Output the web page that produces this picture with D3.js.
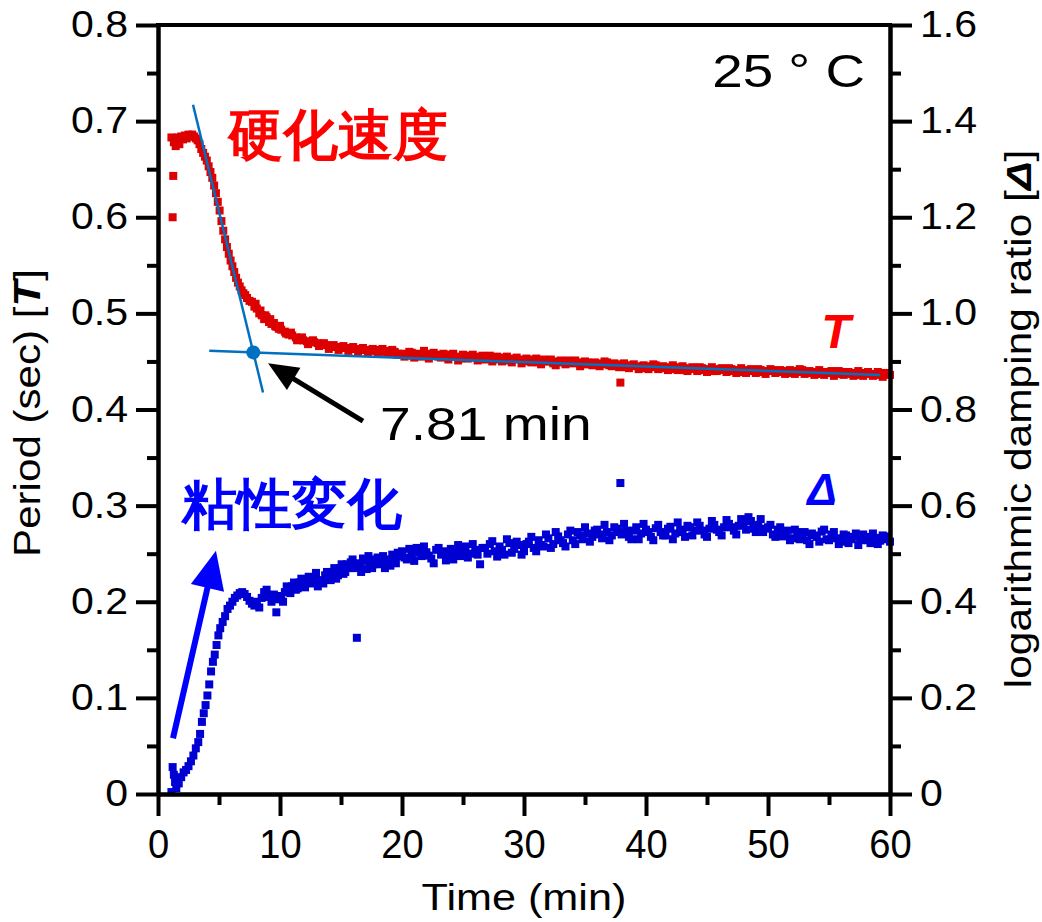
<!DOCTYPE html>
<html><head><meta charset="utf-8">
<script src="https://cdn.jsdelivr.net/npm/d3@7"></script>
<style>
body{margin:0;background:#fff}
text{font-family:"Liberation Sans",Arial,sans-serif}
</style>
</head><body>
<svg id="c" width="1042" height="922"></svg>
<script>
// ---------- data ----------
const periodTimeEarly = [1.1,1.2,1.25,1.3,1.45,1.6,1.75,1.9,2.05,2.2,2.35,2.5,2.65,2.8,2.95,3.1,3.25,3.4,3.55,3.7,3.85,4.0,4.15,4.3,4.45,4.6,4.75,4.9,5.05,5.2,5.35,5.5,5.65,5.8,5.95,6.1,6.25,6.4,6.55,6.7,6.85,7.0,7.15,7.3,7.5,7.7,7.9,8.1,8.3,8.5,8.7,8.9,9.1,9.3,9.5,9.7,9.9,10.1,10.4,10.7,11.0,11.3,11.6,11.9,12.2,12.5,12.8,13.1,13.4,13.8,14.2,14.6,15.0,15.4,15.8,16.2,16.6,17.0,17.4,17.8,18.2,18.6,19.0,19.4,19.7];
const periodValueEarly = [.683,.600,.643,.678,.674,.683,.676,.684,.681,.685,.682,.686,.684,.686,.684,.682,.680,.676,.671,.667,.663,.659,.653,.647,.641,.633,.625,.616,.607,.596,.586,.577,.569,.562,.555,.549,.543,.537,.532,.528,.524,.521,.519,.516,.513,.512,.507,.505,.500,.498,.494,.496,.491,.489,.490,.486,.484,.483,.481,.478,.477,.475,.474,.472,.471,.470,.470,.469,.468,.467,.466,.465,.465,.464,.463,.463,.462,.462,.461,.462,.460,.461,.459,.460,.458];
const periodTimeMid = [8.0,8.4,8.8,9.2,9.6,10.0,10.5,10.9,11.4,11.8,12.3,12.7,13.2,13.6,14.0,14.4,14.8,15.2,15.6,16.0,16.4,16.8,17.2,17.6,18.0,18.4,18.8,19.2,19.6];
const periodValueMid = [.510,.503,.498,.494,.487,.487,.479,.480,.472,.475,.468,.472,.466,.469,.463,.467,.462,.466,.461,.465,.460,.464,.459,.463,.458,.463,.458,.462,.457];
const dampTimeEarly = [1.1,1.2,1.3,1.4,1.5,1.6,1.7,1.9,2.1,2.3,2.5,2.7,2.9,3.1,3.3,3.45,3.6,3.75,3.9,4.05,4.2,4.35,4.5,4.65,4.8,4.95,5.1,5.3,5.5,5.7,5.9,6.1,6.3,6.5,6.7,6.9,7.1,7.3,7.5,7.7,7.9,8.1,8.3,8.5,8.7,8.9,9.1,9.3,9.5,9.7,9.9,10.1,10.4,10.7,11.0,11.3,11.6,11.9,12.2,12.5,12.8,13.1,13.4,13.7,14.0,14.3,14.6,14.9,15.2,15.5,15.8,16.1,16.5,16.8,17.1,17.4,17.7,18.0,18.3,18.6,18.9,19.2,19.5,19.8];
const dampValueEarly = [.004,.056,.040,.025,.012,.030,.022,.035,.045,.050,.058,.068,.080,.095,.108,.125,.150,.168,.185,.205,.228,.255,.275,.290,.310,.330,.345,.358,.370,.385,.392,.400,.408,.413,.418,.420,.416,.410,.402,.396,.392,.400,.388,.408,.420,.425,.410,.400,.415,.378,.405,.412,.420,.428,.432,.425,.440,.436,.445,.438,.448,.432,.440,.455,.450,.462,.448,.470,.458,.478,.482,.470,.475,.490,.468,.483,.478,.492,.485,.470,.488,.498,.480,.495];
const dampTimeMid = [10.25,10.55,10.85,11.15,11.45,11.75,12.05,12.35,12.65,12.95,13.25,13.55,13.85,14.15,14.45,14.75,15.05,15.35,15.65,15.95,16.25,16.65,16.95,17.25,17.55,17.85,18.15,18.45,18.75,19.05,19.35,19.65];
const dampValueMid = [.400,.432,.418,.440,.428,.448,.430,.452,.440,.460,.445,.438,.462,.445,.470,.455,.478,.462,.470,.488,.480,.462,.485,.495,.470,.488,.478,.495,.485,.475,.492,.502];
const lateTime = [20.0,20.4,20.8,21.2,21.6,22.0,22.4,22.8,23.2,23.6,24.0,24.4,24.8,25.2,25.6,26.0,26.4,26.8,27.2,27.6,28.0,28.4,28.8,29.2,29.6,30.0,30.4,30.8,31.2,31.6,32.0,32.4,32.8,33.2,33.6,34.0,34.4,34.8,35.2,35.6,36.0,36.4,36.8,37.2,37.6,38.0,38.4,38.8,39.2,39.6,40.0,40.4,40.8,41.2,41.6,42.0,42.4,42.8,43.2,43.6,44.0,44.4,44.8,45.2,45.6,46.0,46.4,46.8,47.2,47.6,48.0,48.4,48.8,49.2,49.6,50.0,50.4,50.8,51.2,51.6,52.0,52.4,52.8,53.2,53.6,54.0,54.4,54.8,55.2,55.6,56.0,56.4,56.8,57.2,57.6,58.0,58.4,58.8,59.2,59.6,60.0];
const periodValueLate = [.458,.456,.459,.457,.455,.458,.456,.457,.454,.456,.457,.455,.453,.456,.454,.455,.452,.454,.456,.453,.452,.454,.451,.453,.452,.450,.452,.451,.449,.452,.450,.448,.450,.449,.451,.448,.449,.447,.449,.446,.448,.447,.449,.445,.447,.446,.444,.446,.445,.443,.445,.444,.446,.443,.444,.442,.444,.443,.441,.443,.442,.444,.441,.442,.440,.442,.441,.443,.440,.441,.439,.441,.440,.442,.439,.440,.441,.439,.440,.438,.440,.439,.441,.438,.439,.437,.439,.438,.440,.437,.438,.439,.437,.438,.436,.438,.437,.436,.438,.437,.436];
const dampValueLate = [.505,.488,.500,.512,.495,.503,.490,.508,.498,.486,.510,.502,.495,.515,.500,.508,.478,.512,.520,.505,.515,.498,.522,.510,.518,.505,.525,.512,.528,.515,.532,.520,.536,.522,.540,.528,.545,.530,.542,.535,.550,.532,.545,.538,.552,.540,.548,.530,.555,.542,.550,.535,.553,.545,.538,.556,.542,.550,.535,.555,.548,.558,.540,.552,.560,.545,.555,.562,.548,.558,.565,.576,.552,.560,.545,.555,.540,.550,.536,.548,.532,.545,.538,.528,.542,.535,.546,.530,.540,.532,.525,.538,.530,.542,.528,.535,.522,.533,.527,.536,.525];
const lateTime2 = [20.2,20.6,21.0,21.4,21.8,22.2,22.6,23.0,23.4,23.8,24.2,24.6,25.0,25.4,25.8,26.2,26.6,27.0,27.4,27.8,28.2,28.6,29.0,29.4,29.8,30.2,30.6,31.0,31.4,31.8,32.2,32.6,33.0,33.4,33.8,34.2,34.6,35.0,35.4,35.8,36.2,36.6,37.0,37.4,37.8,38.2,38.6,39.0,39.4,39.8,40.2,40.6,41.0,41.4,41.8,42.2,42.6,43.0,43.4,43.8,44.2,44.6,45.0,45.4,45.8,46.2,46.6,47.0,47.4,47.8,48.2,48.6,49.0,49.4,49.8,50.2,50.6,51.0,51.4,51.8,52.2,52.6,53.0,53.4,53.8,54.2,54.6,55.0,55.4,55.8,56.2,56.6,57.0,57.4,57.8,58.2,58.6,59.0,59.4,59.8];
const periodValueLate2 = [.455,.460,.454,.458,.461,.453,.459,.455,.458,.452,.458,.451,.457,.453,.457,.451,.456,.452,.450,.455,.450,.455,.449,.454,.448,.453,.449,.453,.447,.450,.452,.446,.451,.447,.449,.451,.445,.450,.447,.449,.445,.450,.446,.448,.444,.448,.443,.447,.442,.446,.442,.447,.442,.445,.441,.446,.441,.445,.440,.444,.440,.443,.439,.444,.440,.443,.439,.442,.438,.443,.438,.442,.438,.441,.437,.442,.438,.441,.437,.441,.437,.442,.437,.440,.436,.441,.436,.439,.435,.440,.436,.439,.435,.440,.435,.439,.435,.439,.434,.438];
const dampValueLate2 = [.492,.510,.485,.502,.515,.496,.480,.512,.505,.495,.488,.518,.505,.492,.520,.498,.512,.500,.526,.494,.508,.530,.502,.525,.498,.520,.535,.505,.518,.540,.512,.545,.528,.515,.548,.520,.538,.555,.525,.548,.540,.560,.528,.555,.545,.562,.535,.548,.530,.562,.545,.528,.560,.538,.552,.530,.565,.545,.558,.538,.565,.548,.535,.568,.550,.538,.570,.555,.540,.572,.550,.568,.545,.572,.552,.560,.535,.555,.542,.528,.550,.530,.545,.520,.538,.525,.550,.528,.545,.520,.540,.522,.535,.518,.540,.528,.542,.520,.538,.530];
const periodOutlierTime = [37.9];
const periodOutlierValue = [0.428];
const dampOutlierTime = [16.3, 37.9];
const dampOutlierValue = [0.325, 0.647];

const xTicks = [0,10,20,30,40,50,60];
const xMinor = [5,15,25,35,45,55];
const leftTicks = [0,0.1,0.2,0.3,0.4,0.5,0.6,0.7,0.8];
const leftTickLabels = ["0","0.1","0.2","0.3","0.4","0.5","0.6","0.7","0.8"];
const leftMinor = [0.05,0.15,0.25,0.35,0.45,0.55,0.65,0.75];
const rightTicks = [0,0.2,0.4,0.6,0.8,1.0,1.2,1.4,1.6];
const rightTickLabels = ["0","0.2","0.4","0.6","0.8","1.0","1.2","1.4","1.6"];
const rightMinor = [0.1,0.3,0.5,0.7,0.9,1.1,1.3,1.5];

// tangent construction (time, period)
const tangentSteep = [[2.87,0.717],[8.61,0.4177]];
const tangentFlat = [[4.2,0.461],[59.2,0.436]];
const onsetPoint = [7.81,0.4594];
const blackArrow = {from:[16.8,0.388], to:[9.02,0.448]};
const blueArrow = {from:[1.23,0.058], to:[4.75,0.253]};

// ---------- chart ----------
const svg = d3.select("#c");
const x = d3.scaleLinear([0,60],[158,890]);
const yL = d3.scaleLinear([0,0.8],[794,25]);
const yR = d3.scaleLinear([0,1.6],[794,25]);
const RED="#dc0000", BLUE="#0000d2", LINE="#0070c0";

function stretch(sel,k){
  sel.each(function(){
    const w=this.getComputedTextLength();
    this.setAttribute("textLength", w*k);
    this.setAttribute("lengthAdjust","spacingAndGlyphs");
  });
}
const zip=(t,v)=>t.map((d,i)=>[d,v[i]]);
const periodData = zip(periodTimeEarly,periodValueEarly)
  .concat(zip(periodTimeMid,periodValueMid))
  .concat(zip(lateTime,periodValueLate))
  .concat(zip(lateTime2,periodValueLate2))
  .concat(zip(periodOutlierTime,periodOutlierValue));
const dampData = zip(dampTimeEarly,dampValueEarly)
  .concat(zip(dampTimeMid,dampValueMid))
  .concat(zip(lateTime,dampValueLate))
  .concat(zip(lateTime2,dampValueLate2))
  .concat(zip(dampOutlierTime,dampOutlierValue));

const S=8;
svg.append("g").selectAll("rect").data(dampData).join("rect")
  .attr("x",d=>x(d[0])-S/2).attr("y",d=>yR(d[1])-S/2)
  .attr("width",S).attr("height",S).attr("fill",BLUE);
svg.append("g").selectAll("rect").data(periodData).join("rect")
  .attr("x",d=>x(d[0])-S/2).attr("y",d=>yL(d[1])-S/2)
  .attr("width",S).attr("height",S).attr("fill",RED);

// tangents
const ln = d3.line().x(d=>x(d[0])).y(d=>yL(d[1]));
svg.append("path").attr("d",ln(tangentSteep)).attr("stroke",LINE).attr("stroke-width",2.5).attr("fill","none");
svg.append("path").attr("d",ln(tangentFlat)).attr("stroke",LINE).attr("stroke-width",2.5).attr("fill","none");
svg.append("circle").attr("cx",x(onsetPoint[0])).attr("cy",yL(onsetPoint[1])).attr("r",7).attr("fill",LINE);

// arrows
function arrow(a,color,w,hl,hw){
  const x1=x(a.from[0]),y1=yL(a.from[1]),x2=x(a.to[0]),y2=yL(a.to[1]);
  const ang=Math.atan2(y2-y1,x2-x1);
  const bx=x2-hl*Math.cos(ang), by=y2-hl*Math.sin(ang);
  svg.append("line").attr("x1",x1).attr("y1",y1).attr("x2",bx+2*Math.cos(ang)).attr("y2",by+2*Math.sin(ang))
    .attr("stroke",color).attr("stroke-width",w);
  const px=-Math.sin(ang), py=Math.cos(ang);
  svg.append("path").attr("d",`M${x2},${y2}L${bx+px*hw},${by+py*hw}L${bx-px*hw},${by-py*hw}Z`).attr("fill",color);
}
arrow(blackArrow,"#000",5,30,13);
arrow(blueArrow,"#0000ff",6,38,17);

// axes
function styleAxis(g){
  g.select(".domain").attr("stroke","#000").attr("stroke-width",4);
  g.selectAll(".tick line").attr("stroke","#000").attr("stroke-width",4);
}
const gL = svg.append("g").attr("transform","translate(158,0)")
  .call(d3.axisLeft(yL).tickValues(leftTicks).tickSize(22).tickSizeOuter(0).tickPadding(8).tickFormat((d,i)=>leftTickLabels[i]));
svg.append("g").attr("transform","translate(158,0)")
  .call(d3.axisLeft(yL).tickValues(leftMinor).tickSize(11).tickSizeOuter(0).tickFormat("")).call(styleAxis);
styleAxis(gL);
gL.selectAll(".tick text").attr("font-size",36).attr("font-family","Liberation Sans, Arial").attr("fill","#000").call(stretch,1.14);

const gR = svg.append("g").attr("transform","translate(890,0)")
  .call(d3.axisRight(yR).tickValues(rightTicks).tickSize(22).tickSizeOuter(0).tickPadding(8).tickFormat((d,i)=>rightTickLabels[i]));
svg.append("g").attr("transform","translate(890,0)")
  .call(d3.axisRight(yR).tickValues(rightMinor).tickSize(11).tickSizeOuter(0).tickFormat("")).call(styleAxis);
styleAxis(gR);
gR.selectAll(".tick text").attr("font-size",36).attr("font-family","Liberation Sans, Arial").attr("fill","#000").call(stretch,1.14);

const gB = svg.append("g").attr("transform","translate(0,794)")
  .call(d3.axisBottom(x).tickValues(xTicks).tickSize(22).tickSizeOuter(0).tickPadding(13));
svg.append("g").attr("transform","translate(0,794)")
  .call(d3.axisBottom(x).tickValues(xMinor).tickSize(11).tickSizeOuter(0).tickFormat("")).call(styleAxis);
styleAxis(gB);
gB.selectAll(".tick text").attr("font-size",41).attr("font-family","Liberation Sans, Arial").attr("fill","#000").call(stretch,0.93);

// top frame
svg.append("line").attr("x1",x(0)-2).attr("x2",x(60)+2).attr("y1",yL(0.8)).attr("y2",yL(0.8))
  .attr("stroke","#000").attr("stroke-width",4);

// axis titles
svg.append("text").attr("x",524).attr("y",910).attr("text-anchor","middle").attr("font-size",36)
  .text("Time (min)").call(stretch,1.2);
const tl = svg.append("text").attr("transform","translate(40,413) rotate(-90)").attr("text-anchor","middle").attr("font-size",36);
tl.append("tspan").text("Period (sec) [");
tl.append("tspan").attr("font-weight","bold").attr("font-style","italic").text("T");
tl.append("tspan").text("]");
tl.call(stretch,1.17);
const tr = svg.append("text").attr("transform","translate(1031,419) rotate(-90)").attr("text-anchor","middle").attr("font-size",36);
tr.append("tspan").text("logarithmic damping ratio [");
tr.append("tspan").attr("font-weight","bold").attr("font-style","italic").text("Δ");
tr.append("tspan").text("]");
tr.call(stretch,1.18);

// annotations
svg.append("text").attr("x",865).attr("y",87).attr("text-anchor","end").attr("font-size",46).text("25 ° C").call(stretch,1.19);
svg.append("text").attr("x",380).attr("y",440).attr("font-size",46).text("7.81 min").call(stretch,1.2);
svg.append("text").attr("x",228).attr("y",154).attr("font-size",55).attr("font-weight","bold")
  .attr("font-family","Noto Sans CJK JP").attr("fill","#ff0000").text("硬化速度");
svg.append("text").attr("x",182).attr("y",523).attr("font-size",55).attr("font-weight","bold")
  .attr("font-family","Noto Sans CJK JP").attr("fill","#0000ff").text("粘性変化");
svg.append("text").attr("x",836).attr("y",348).attr("text-anchor","middle").attr("font-size",48)
  .attr("font-weight","bold").attr("font-style","italic").attr("fill","#ff0000").text("T");
svg.append("text").attr("x",822).attr("y",505).attr("text-anchor","middle").attr("font-size",44)
  .attr("font-weight","bold").attr("font-style","italic").attr("fill","#0000ff").text("Δ");
</script>
</body></html>
